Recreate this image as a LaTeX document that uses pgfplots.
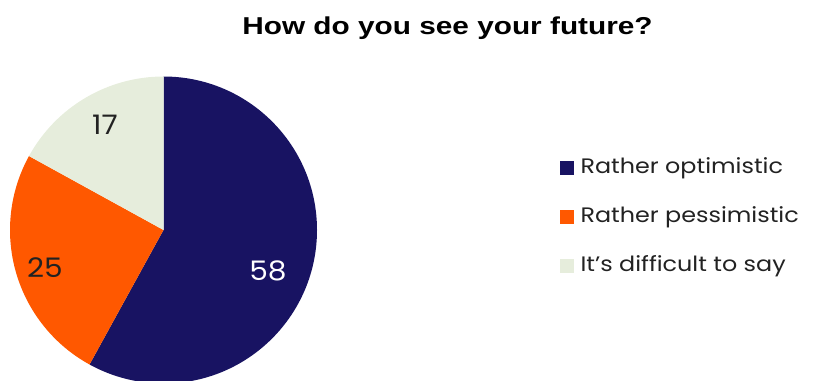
\documentclass[border=0pt]{standalone}
\usepackage{pgfplots}
\pgfplotsset{compat=1.18}
\usepackage{pgfplotstable}
\usepackage{fontspec}
\setmainfont{Poppins}
\newfontfamily\titlefont{Liberation Sans}
\definecolor{cA}{RGB}{24,19,98}
\definecolor{cB}{RGB}{255,88,0}
\definecolor{cC}{RGB}{230,237,220}
\definecolor{txt}{RGB}{34,34,34}
\pgfplotstableread{
label value
optimistic 58
pessimistic 25
difficult 17
}\piedata
\newcommand{\wide}[1]{\scalebox{1.14}[1]{#1}}
\newcommand{\numw}[1]{\scalebox{1.1}[1]{#1}}
\begin{document}
\begin{tikzpicture}
\pgfplotstablegetelem{0}{value}\of\piedata \let\vA=\pgfplotsretval
\pgfplotstablegetelem{1}{value}\of\piedata \let\vB=\pgfplotsretval
\pgfplotstablegetelem{2}{value}\of\piedata \let\vC=\pgfplotsretval
\pgfmathsetmacro\aA{90}
\pgfmathsetmacro\aB{90-3.6*\vA}
\pgfmathsetmacro\aC{\aB-3.6*\vB}
\pgfmathsetmacro\aD{\aC-3.6*\vC}
\begin{axis}[
  x=1bp, y=1bp,
  xmin=0, xmax=814, ymin=0, ymax=380,
  hide axis, clip=true,
  scale only axis,
  legend style={draw=none, fill=none, at={(axis cs:557,163)}, anchor=west,
    font=\fontsize{21}{24}\selectfont, text=txt,
    row sep=26bp, nodes={inner sep=2bp, text height=15bp, text depth=4bp}},
  legend cell align=left,
  legend image code/.code={\fill[#1] (0bp,-6.5bp) rectangle (13bp,6.5bp);},
]
\path (axis cs:0,0) rectangle (axis cs:814,380);
\fill[cA] (axis cs:163.5,150) -- ++(\aA:153.5bp) arc[start angle=\aA, end angle=\aB, radius=153.5bp] -- cycle;
\fill[cB] (axis cs:163.5,150) -- ++(\aB:153.5bp) arc[start angle=\aB, end angle=\aC, radius=153.5bp] -- cycle;
\fill[cC] (axis cs:163.5,150) -- ++(\aC:153.5bp) arc[start angle=\aC, end angle=\aD, radius=153.5bp] -- cycle;
\node[text=txt, font=\fontsize{27}{30}\selectfont] at (axis cs:105,255) {\numw{\vC}};
\node[text=txt, font=\fontsize{27}{30}\selectfont] at (axis cs:45,112) {\numw{\vB}};
\node[text=white, font=\fontsize{27}{30}\selectfont] at (axis cs:268,109) {\numw{\vA}};
\node[font=\titlefont\bfseries\fontsize{24.5}{28}\selectfont] at (axis cs:447.5,352) {\scalebox{1.22}[1]{How do you see your future?}};
\addlegendimage{cA}
\addlegendentry{\hspace*{5bp}\wide{Rather optimistic}}
\addlegendimage{cB}
\addlegendentry{\hspace*{5bp}\wide{Rather pessimistic}}
\addlegendimage{cC}
\addlegendentry{\hspace*{5bp}\wide{It’s difficult to say}}
\end{axis}
\end{tikzpicture}
\end{document}
